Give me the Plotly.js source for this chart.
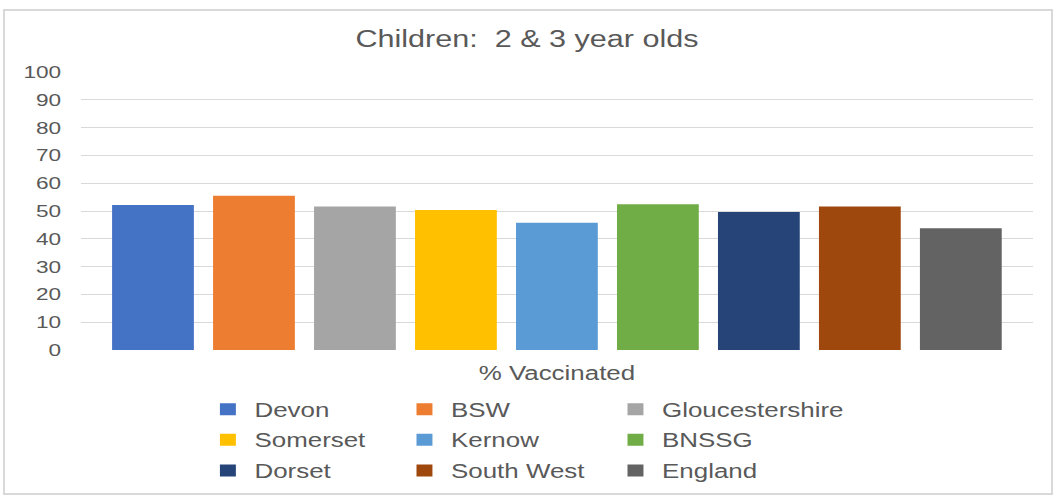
<!DOCTYPE html>
<html><head><meta charset="utf-8">
<script src="https://cdn.plot.ly/plotly-3.0.1.min.js"></script>
<style>
html,body{margin:0;padding:0;background:#fff;overflow:hidden;width:1054px;height:496px;}
#wrap{position:absolute;left:0;top:0;width:793px;height:496px;transform:scaleX(1.32913);transform-origin:0 0;}
#frame{position:absolute;left:3px;top:9px;width:1046px;height:482px;border:2px solid #d9d9d9;pointer-events:none;}
</style></head><body>
<div id="wrap"><div id="chart" style="width:793px;height:496px;"></div></div>
<div id="frame"></div>
<script>
const category = ['% Vaccinated'];
const seriesNames = ['Devon','BSW','Gloucestershire','Somerset','Kernow','BNSSG','Dorset','South West','England'];
const seriesValues = [52.2, 55.5, 51.6, 50.4, 45.8, 52.4, 49.6, 51.6, 43.8];
const seriesColors = ['#4472C4','#ED7D31','#A5A5A5','#FFC000','#5B9BD5','#70AD47','#264478','#9E480E','#636363'];
const legendColumn = ['legend','legend2','legend3','legend','legend2','legend3','legend','legend2','legend3'];
const yTicks = [0,10,20,30,40,50,60,70,80,90,100];
const chartTitle = 'Children:  2 & 3 year olds';

const FONT = 'Liberation Sans, Arial, sans-serif';
const TXT = '#595959';

const data = seriesNames.map((n, i) => ({
  type: 'bar',
  name: n,
  x: category,
  y: [seriesValues[i]],
  marker: {color: seriesColors[i], line: {width: 0}},
  legend: legendColumn[i],
  legendgroup: n,
  hoverinfo: 'skip'
}));

const legendBase = {
  orientation: 'v', xref: 'container', yref: 'container', xanchor: 'left', yanchor: 'top',
  y: 0.2137, font: {family: FONT, size: 19.5, color: TXT}, bgcolor: 'rgba(0,0,0,0)',
  borderwidth: 0, tracegroupgap: 2.3, traceorder: 'grouped'
};

const layout = {
  width: 793, height: 496,
  margin: {l: 60.9, r: 15.8, t: 72, b: 146, pad: 0, autoexpand: false},
  paper_bgcolor: '#ffffff', plot_bgcolor: '#ffffff',
  font: {family: FONT, color: TXT},
  title: {text: chartTitle, font: {family: FONT, size: 23, color: TXT},
          x: 0.5, xanchor: 'center', y: 0.921, yanchor: 'middle', yref: 'container'},
  barmode: 'group', bargap: 0.045, bargroupgap: 0.19,
  showlegend: true,
  legend: Object.assign({}, legendBase, {x: 0.1910}),
  legend2: Object.assign({}, legendBase, {x: 0.3775}),
  legend3: Object.assign({}, legendBase, {x: 0.5777}),
  xaxis: {type: 'category', showgrid: false, zeroline: false, showline: false, ticks: '', automargin: false,
          tickfont: {family: FONT, size: 19.5, color: TXT}, ticklabelstandoff: 10, ticklabelshift: -4.5, fixedrange: true},
  yaxis: {range: [0, 100], tickvals: yTicks, ticktext: yTicks.map(String), gridcolor: '#d9d9d9', gridwidth: 1,
          zeroline: false, showline: false, ticks: '', automargin: false, tickfont: {family: FONT, size: 17, color: TXT},
          ticklabelstandoff: 14, fixedrange: true}
};

Plotly.newPlot('chart', data, layout, {staticPlot: true, displayModeBar: false});
</script>
</body></html>
